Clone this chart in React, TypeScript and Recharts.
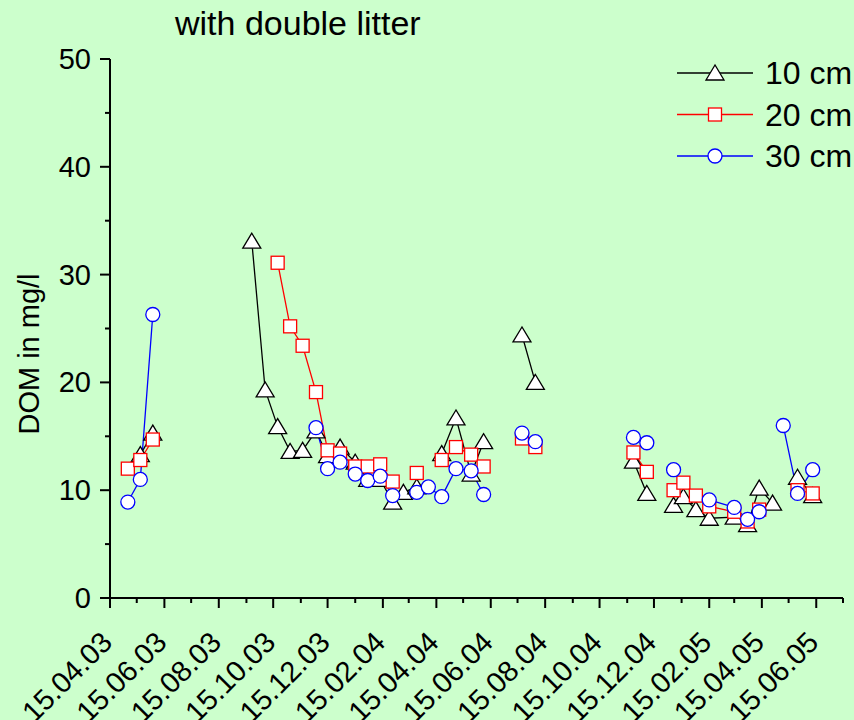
import { Line, LineChart, XAxis, YAxis } from "recharts";

// sampling dates (dd.mm.yy); rows with all-null values separate the campaigns
const SAMPLE_DATES = [
  "05.05.03", "19.05.03", "02.06.03",
  "01.08.03",
  "21.09.03", "06.10.03", "20.10.03", "03.11.03", "17.11.03", "02.12.03",
  "15.12.03", "29.12.03", "15.01.04", "29.01.04", "12.02.04", "26.02.04",
  "09.03.04", "24.03.04", "06.04.04", "21.04.04", "07.05.04", "24.05.04",
  "07.06.04",
  "01.07.04",
  "20.07.04", "04.08.04",
  "01.10.04",
  "22.11.04", "07.12.04",
  "22.12.04",
  "06.01.05", "17.01.05", "31.01.05", "15.02.05", "15.03.05", "30.03.05",
  "12.04.05", "27.04.05", "09.05.05", "25.05.05", "11.06.05",
];

const DOM_10CM = [
  null, 13.3, 15.3,
  null,
  33.1, 19.3, 15.9, 13.6, 13.7, 15.5, 13.2, 14.0, 12.6, 11.0, 11.0, 8.9,
  9.8, 10.3, null, 13.4, 16.7, 11.5, 14.5,
  null,
  24.4, 20.0,
  null,
  12.7, 9.7,
  null,
  8.6, 9.4, 8.2, 7.4, 7.5, 6.8, 10.2, 8.8, null, 11.2, 9.5,
];

const DOM_20CM = [
  12.0, 12.8, 14.7,
  null,
  null, null, 31.1, 25.2, 23.4, 19.1, 13.7, 13.4, 12.2, 12.2, 12.4, 10.8,
  null, 11.6, null, 12.8, 14.0, 13.3, 12.2,
  null,
  14.8, 14.0,
  null,
  13.5, 11.7,
  null,
  10.0, 10.7, 9.5, 8.5, 8.0, 7.1, 8.2, null, null, 10.0, 9.7,
];

const DOM_30CM = [
  8.9, 11.0, 26.3,
  null,
  null, null, null, null, null, 15.8, 12.0, 12.6, 11.5, 10.9, 11.3, 9.5,
  null, 9.8, 10.3, 9.4, 12.0, 11.8, 9.6,
  null,
  15.3, 14.5,
  null,
  14.9, 14.4,
  null,
  11.9, null, null, 9.1, 8.4, 7.3, 8.0, null, 16.0, 9.7, 11.9,
];

const X_TICK_LABELS = [
  "15.04.03", "15.06.03", "15.08.03", "15.10.03", "15.12.03", "15.02.04",
  "15.04.04", "15.06.04", "15.08.04", "15.10.04", "15.12.04", "15.02.05",
  "15.04.05", "15.06.05",
];
const X_AXIS_END = "15.07.05";
const Y_TICKS = [0, 5, 10, 15, 20, 25, 30, 35, 40, 45, 50];

const SERIES = [
  { key: "cm10", label: "10 cm", color: "#000000" },
  { key: "cm20", label: "20 cm", color: "#ff0000" },
  { key: "cm30", label: "30 cm", color: "#0000ff" },
];

const FONT = '"Liberation Sans", Arial, sans-serif';
const PLOT_LEFT = 110;
const PLOT_BOTTOM = 598;

function parseDate(s: string) {
  const [d, m, y] = s.split(".").map(Number);
  return Date.UTC(2000 + y, m - 1, d);
}

const data = SAMPLE_DATES.map((d, i) => ({
  t: parseDate(d),
  cm10: DOM_10CM[i],
  cm20: DOM_20CM[i],
  cm30: DOM_30CM[i],
}));

const majorLabels = new Map(X_TICK_LABELS.map((s) => [parseDate(s), s]));
const minorTicks = X_TICK_LABELS.map((s) => {
  const d = new Date(parseDate(s));
  return Date.UTC(d.getUTCFullYear(), d.getUTCMonth() + 1, 15);
});
const xTicks = [...majorLabels.keys(), ...minorTicks].sort((a, b) => a - b);

function Triangle({ cx, cy }: { cx: number; cy: number }) {
  return (
    <polygon
      points={`${cx},${cy - 8} ${cx - 9},${cy + 7} ${cx + 9},${cy + 7}`}
      fill="#fff"
      stroke="#000"
      strokeWidth={1.3}
    />
  );
}

function Square({ cx, cy }: { cx: number; cy: number }) {
  return (
    <rect x={cx - 6.5} y={cy - 6.5} width={13} height={13} fill="#fff" stroke="#ff0000" strokeWidth={1.3} />
  );
}

function Circle({ cx, cy }: { cx: number; cy: number }) {
  return <circle cx={cx} cy={cy} r={7} fill="#fff" stroke="#0000ff" strokeWidth={1.3} />;
}

const MARKERS: Record<string, (p: { cx: number; cy: number }) => JSX.Element> = {
  cm10: Triangle,
  cm20: Square,
  cm30: Circle,
};

function makeDot(key: string) {
  const Marker = MARKERS[key];
  return (props: any) => {
    const { cx, cy, index } = props;
    if (cx == null || cy == null || props.value == null) return <g key={`${key}-${index}`} />;
    return (
      <g key={`${key}-${index}`}>
        <Marker cx={cx} cy={cy} />
      </g>
    );
  };
}

function DateTick(props: any) {
  const { x, payload } = props;
  const label = majorLabels.get(payload.value);
  const ax = x + 4;
  const ay = 644;
  return (
    <g>
      <line x1={x} x2={x} y1={PLOT_BOTTOM} y2={PLOT_BOTTOM + (label ? 10 : 5)} stroke="#000" strokeWidth={2} />
      {label && (
        <text
          x={ax}
          y={ay}
          textAnchor="end"
          transform={`rotate(-45 ${ax} ${ay})`}
          fontSize={29}
          fontFamily={FONT}
          fill="#000"
        >
          {label}
        </text>
      )}
    </g>
  );
}

function ValueTick(props: any) {
  const { y, payload } = props;
  const major = payload.value % 10 === 0;
  return (
    <g>
      <line x1={PLOT_LEFT - (major ? 10 : 5)} x2={PLOT_LEFT} y1={y} y2={y} stroke="#000" strokeWidth={2} />
      {major && (
        <text x={PLOT_LEFT - 19} y={y + 10} textAnchor="end" fontSize={29} fontFamily={FONT} fill="#000">
          {payload.value}
        </text>
      )}
    </g>
  );
}

export default function App() {
  return (
    <div
      style={{
        position: "absolute",
        left: 0,
        top: 0,
        width: 854,
        height: 720,
        background: "#ccffcc",
        fontFamily: FONT,
        overflow: "hidden",
      }}
    >
      <LineChart width={854} height={720} data={data} margin={{ top: 59, right: 11, bottom: 0, left: 0 }}>
        <XAxis
          dataKey="t"
          type="number"
          domain={[parseDate(X_TICK_LABELS[0]), parseDate(X_AXIS_END)]}
          ticks={xTicks}
          interval={0}
          height={122}
          tickLine={false}
          axisLine={{ stroke: "#000", strokeWidth: 2 }}
          tick={<DateTick />}
        />
        <YAxis
          type="number"
          domain={[0, 50]}
          ticks={Y_TICKS}
          interval={0}
          width={110}
          tickLine={false}
          axisLine={{ stroke: "#000", strokeWidth: 2 }}
          tick={<ValueTick />}
        />
        {SERIES.map((s) => (
          <Line
            key={s.key}
            dataKey={s.key}
            stroke={s.color}
            strokeWidth={1.3}
            dot={makeDot(s.key)}
            activeDot={false}
            connectNulls={false}
            isAnimationActive={false}
          />
        ))}
      </LineChart>
      <svg width={854} height={720} style={{ position: "absolute", left: 0, top: 0, pointerEvents: "none" }}>
        <text x={175} y={35} fontSize={34} fontFamily={FONT} fill="#000">
          with double litter
        </text>
        <text
          x={39}
          y={354}
          textAnchor="middle"
          transform="rotate(-90 39 354)"
          fontSize={29}
          fontFamily={FONT}
          fill="#000"
        >
          DOM in mg/l
        </text>
        {SERIES.map((s, i) => {
          const cy = 73 + i * 41.5;
          const Marker = MARKERS[s.key];
          return (
            <g key={s.key}>
              <line x1={677} x2={753} y1={cy} y2={cy} stroke={s.color} strokeWidth={1.3} />
              <Marker cx={715} cy={cy} />
              <text x={765} y={cy + 11} fontSize={32} fontFamily={FONT} fill="#000">
                {s.label}
              </text>
            </g>
          );
        })}
      </svg>
    </div>
  );
}
